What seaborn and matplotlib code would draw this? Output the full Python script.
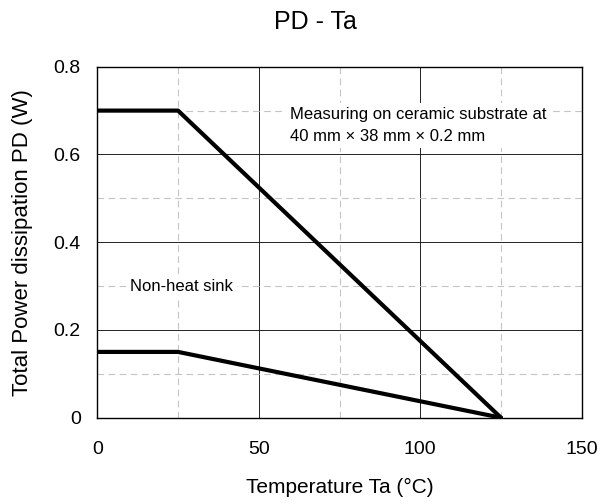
import pandas as pd
import matplotlib.pyplot as plt
import seaborn as sns

# Derating curves
temp_ceramic = [0, 25, 125]
pd_ceramic = [0.7, 0.7, 0.0]
temp_nosink = [0, 25, 125]
pd_nosink = [0.15, 0.15, 0.0]

df = pd.concat([
    pd.DataFrame({'Ta': temp_ceramic, 'PD': pd_ceramic, 'board': 'ceramic'}),
    pd.DataFrame({'Ta': temp_nosink, 'PD': pd_nosink, 'board': 'non-heat sink'}),
])

sns.set_style("white")
plt.rcParams['font.family'] = ['Liberation Sans', 'DejaVu Sans']
plt.rcParams['text.color'] = 'black'
plt.rcParams['axes.labelcolor'] = 'black'
plt.rcParams['xtick.color'] = 'black'
plt.rcParams['ytick.color'] = 'black'

fig = plt.figure(figsize=(6, 5.04), dpi=100)
ax = fig.add_axes([0.1622, 0.1712, 0.8073, 0.6964])

sns.lineplot(data=df, x='Ta', y='PD', units='board', estimator=None,
             color='black', linewidth=3.0, ax=ax, zorder=3)

ax.set_xlim(0, 150)
ax.set_ylim(0, 0.8)
ax.set_xticks([0, 50, 100, 150])
ax.set_xticks([25, 75, 125], minor=True)
ax.set_yticks([0, 0.2, 0.4, 0.6, 0.8])
ax.set_yticks([0.1, 0.3, 0.5, 0.7], minor=True)
ax.set_yticklabels(['0', '0.2', '0.4', '0.6', '0.8'])
ax.grid(which='major', color='#222222', linewidth=0.7)
ax.grid(which='minor', color='#c4c4c4', linewidth=0.8, linestyle=(0, (6, 4)))
ax.tick_params(which='both', length=0, labelsize=14)
ax.tick_params(axis='x', pad=17)
ax.tick_params(axis='y', pad=12)
for s in ax.spines.values():
    s.set_color('black')
    s.set_linewidth(1.0)

ax.set_xlabel('Temperature Ta (°C)', fontsize=15, labelpad=14)
ax.set_ylabel('Total Power dissipation PD (W)', fontsize=16, labelpad=15)
fig.text(0.525, 0.956, 'PD - Ta', fontsize=18, ha='center', va='center')

box = dict(facecolor='white', edgecolor='none', pad=3)
ax.text(59.7, 0.666, 'Measuring on ceramic substrate at\n40 mm × 38 mm × 0.2 mm',
        fontsize=12, va='center', ha='left', linespacing=1.55, bbox=box, zorder=2.5)
ax.text(10.1, 0.299, 'Non-heat sink', fontsize=12, va='center', ha='left',
        bbox=box, zorder=2.5)

fig.savefig('out.png', dpi=100)
